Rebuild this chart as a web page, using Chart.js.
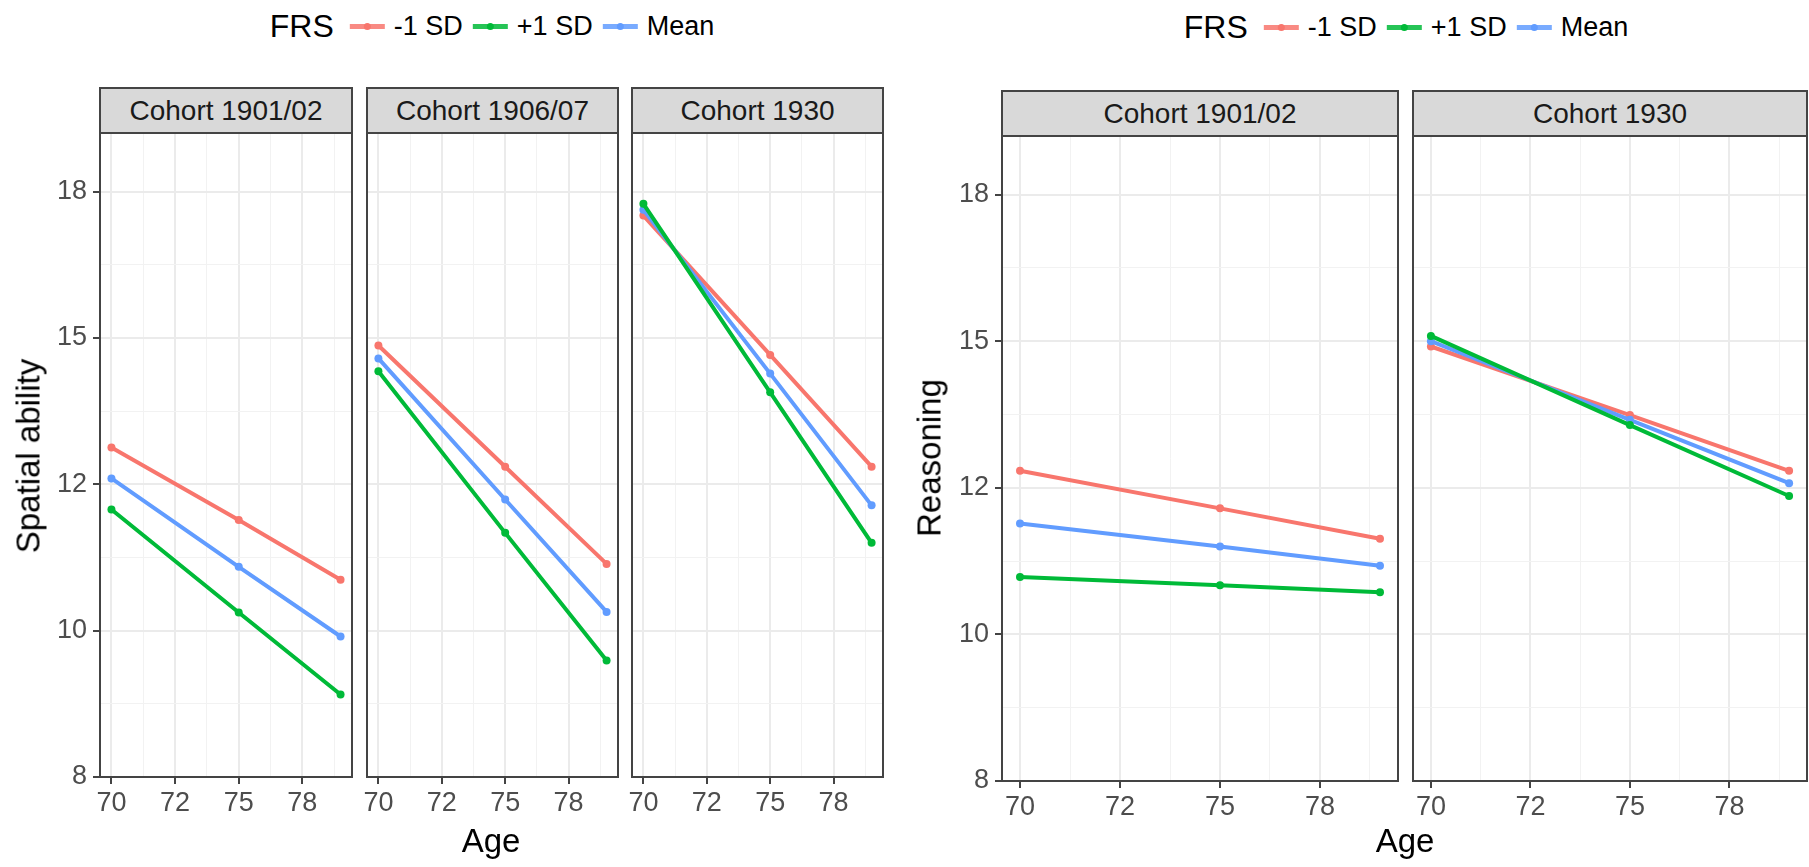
<!DOCTYPE html>
<html>
<head>
<meta charset="utf-8">
<script src="https://cdn.jsdelivr.net/npm/chart.js@4.4.1/dist/chart.umd.min.js"></script>
<style>
  body { margin: 0; width: 1809px; height: 867px; background: #fff; position: relative; overflow: hidden;
         font-family: "Liberation Sans", Arial, sans-serif; }
  canvas { position: absolute; }
  .strip { position: absolute; box-sizing: border-box; background: #d9d9d9; border: 2px solid #444;
           font-size: 28px; color: #1a1a1a; display: flex; align-items: center; justify-content: center; }
  .title { position: absolute; font-size: 33px; line-height: 1; color: #000; white-space: nowrap;
           transform: translate(-50%, -50%); }
  .title.rot { transform: translate(-50%, -50%) rotate(-90deg); }
  .legend { position: absolute; display: flex; align-items: center; white-space: nowrap;
            transform: translate(-50%, -50%); line-height: 1; }
  .legend .lt { font-size: 32px; margin-right: 16px; }
  .legend .lab { font-size: 27px; margin: 0 10px 0 9px; }
  .legend .lab:last-child { margin-right: 0; }
  .key { position: relative; width: 35px; height: 20px; }
  .key::before { content: ""; position: absolute; left: 0; right: 0; top: 8px; height: 5px; background: var(--c); opacity: .85; }
  .key::after { content: ""; position: absolute; left: 14px; top: 7px; width: 7px; height: 7px; border-radius: 50%; background: var(--c); }
</style>
</head>
<body>
<script>
// data
const ages = [70, 75, 79];
const groups = ["-1 SD", "+1 SD", "Mean"];

const spatial1901Minus = [13.13, 11.89, 10.87];
const spatial1901Plus  = [12.07, 10.31, 8.91];
const spatial1901Mean  = [12.60, 11.09, 9.90];
const spatial1906Minus = [14.87, 12.80, 11.14];
const spatial1906Plus  = [14.43, 11.67, 9.49];
const spatial1906Mean  = [14.65, 12.24, 10.32];
const spatial1930Minus = [17.09, 14.71, 12.80];
const spatial1930Plus  = [17.29, 14.07, 11.50];
const spatial1930Mean  = [17.19, 14.39, 12.14];

const reason1901Minus = [12.79, 12.15, 11.63];
const reason1901Plus  = [10.98, 10.84, 10.72];
const reason1901Mean  = [11.89, 11.50, 11.17];
const reason1930Minus = [14.91, 13.74, 12.79];
const reason1930Plus  = [15.09, 13.57, 12.36];
const reason1930Mean  = [15.00, 13.66, 12.58];

const yTicks = [7.5, 10, 12.5, 15, 17.5];
const yTickLabels = ["8", "10", "12", "15", "18"];
const xTicks = [70, 72.5, 75, 77.5];
const xTickLabels = ["70", "72", "75", "78"];

const colors = ["#F8766D", "#00BA38", "#619CFF"];
const drawOrder = [2, 0, 1];
const FONT = "Liberation Sans";
Chart.defaults.font.family = FONT;

// majors plus the halfway minor lines
function withMinor(majors, lo, hi) {
  const step = majors[1] - majors[0];
  const out = [];
  for (let v = majors[0] - step / 2; v <= hi; v += step / 2) if (v >= lo) out.push(v);
  return out;
}
const isMajor = (v, majors) => majors.some(m => Math.abs(m - v) < 1e-6);
const labelFor = (v, majors, labels) => {
  const i = majors.findIndex(m => Math.abs(m - v) < 1e-6);
  return i < 0 ? "" : labels[i];
};

const frame = {
  id: "frame",
  afterDraw(chart) {
    const { ctx, chartArea: a } = chart;
    ctx.save();
    ctx.strokeStyle = "#444";
    ctx.lineWidth = 2;
    ctx.strokeRect(a.left, a.top, a.right - a.left, a.bottom - a.top);
    ctx.restore();
  }
};

const X_MIN = 69.55, X_MAX = 79.45, Y_MIN = 7.5, Y_MAX = 18.5;
// generous padding so Chart.js never needs to push the plot area in for labels
const PAD_T = 30, PAD_L = 20, PAD_R = 20;

function facet(rect, series, showY, name) {
  const yW = showY ? 100 : 0;
  const xH = 80;
  const c = document.createElement("canvas");
  c.width = rect.right - rect.left + yW + PAD_L + PAD_R;
  c.height = rect.bottom - rect.top + PAD_T + xH;
  c.style.left = (rect.left - yW - PAD_L) + "px";
  c.style.top = (rect.top - PAD_T) + "px";
  document.body.appendChild(c);

  const s = document.createElement("div");
  s.className = "strip";
  s.textContent = name;
  s.style.left = (rect.left - 1) + "px";
  s.style.width = (rect.right - rect.left + 2) + "px";
  s.style.top = (rect.top - 46) + "px";
  s.style.height = "47px";
  document.body.appendChild(s);

  const grid = majors => ({
    color: ctx => isMajor(ctx.tick.value, majors) ? "#ebebeb" : "#f2f2f2",
    lineWidth: ctx => isMajor(ctx.tick.value, majors) ? 2 : 1,
    tickColor: ctx => isMajor(ctx.tick.value, majors) ? "#444" : "rgba(0,0,0,0)",
    tickWidth: 2,
    tickLength: 7
  });

  new Chart(c, {
    type: "line",
    data: {
      datasets: groups.map((g, i) => ({
        label: g,
        data: ages.map((a, j) => ({ x: a, y: series[i][j] })),
        borderColor: colors[i],
        backgroundColor: colors[i],
        borderWidth: 4,
        pointRadius: 4,
        pointBorderWidth: 0,
        order: drawOrder[i],
        clip: false
      }))
    },
    options: {
      responsive: false,
      animation: false,
      devicePixelRatio: 1,
      layout: { padding: { top: PAD_T, right: PAD_R, left: PAD_L, bottom: 0 } },
      plugins: { legend: { display: false }, tooltip: { enabled: false } },
      scales: {
        x: {
          type: "linear", min: X_MIN, max: X_MAX,
          afterBuildTicks: sc => { sc.ticks = withMinor(xTicks, X_MIN, X_MAX).map(v => ({ value: v })); },
          afterFit: sc => { sc.height = xH; },
          ticks: { autoSkip: false, maxRotation: 0, padding: 3, color: "#4d4d4d",
                   font: { size: 27, family: FONT },
                   callback: v => labelFor(v, xTicks, xTickLabels) },
          grid: grid(xTicks),
          border: { display: false }
        },
        y: {
          type: "linear", min: Y_MIN, max: Y_MAX,
          afterBuildTicks: sc => { sc.ticks = withMinor(yTicks, Y_MIN, Y_MAX).map(v => ({ value: v })); },
          afterFit: sc => { sc.width = yW; },
          ticks: { display: showY, autoSkip: false, padding: 6, color: "#4d4d4d",
                   font: { size: 27, family: FONT },
                   callback: v => labelFor(v, yTicks, yTickLabels) },
          grid: Object.assign(grid(yTicks), { drawTicks: showY }),
          border: { display: false }
        }
      }
    },
    plugins: [frame]
  });
}

function legend(cx, cy) {
  const d = document.createElement("div");
  d.className = "legend";
  d.style.left = cx + "px";
  d.style.top = cy + "px";
  let html = '<span class="lt">FRS</span>';
  groups.forEach((g, i) => {
    html += '<span class="key" style="--c:' + colors[i] + '"></span><span class="lab">' + g + "</span>";
  });
  d.innerHTML = html;
  document.body.appendChild(d);
}

function title(text, cx, cy, rot) {
  const d = document.createElement("div");
  d.className = rot ? "title rot" : "title";
  d.textContent = text;
  d.style.left = cx + "px";
  d.style.top = cy + "px";
  document.body.appendChild(d);
}

// left plot: spatial ability
facet({ left: 100, right: 352, top: 133, bottom: 777 },
      [spatial1901Minus, spatial1901Plus, spatial1901Mean], true, "Cohort 1901/02");
facet({ left: 367, right: 618, top: 133, bottom: 777 },
      [spatial1906Minus, spatial1906Plus, spatial1906Mean], false, "Cohort 1906/07");
facet({ left: 632, right: 883, top: 133, bottom: 777 },
      [spatial1930Minus, spatial1930Plus, spatial1930Mean], false, "Cohort 1930");
legend(492, 26);
title("Spatial ability", 28, 456, true);
title("Age", 491, 840, false);

// right plot: reasoning
facet({ left: 1002, right: 1398, top: 136, bottom: 781 },
      [reason1901Minus, reason1901Plus, reason1901Mean], true, "Cohort 1901/02");
facet({ left: 1413, right: 1807, top: 136, bottom: 781 },
      [reason1930Minus, reason1930Plus, reason1930Mean], false, "Cohort 1930");
legend(1406, 27);
title("Reasoning", 929, 458, true);
title("Age", 1405, 840, false);
</script>
</body>
</html>
